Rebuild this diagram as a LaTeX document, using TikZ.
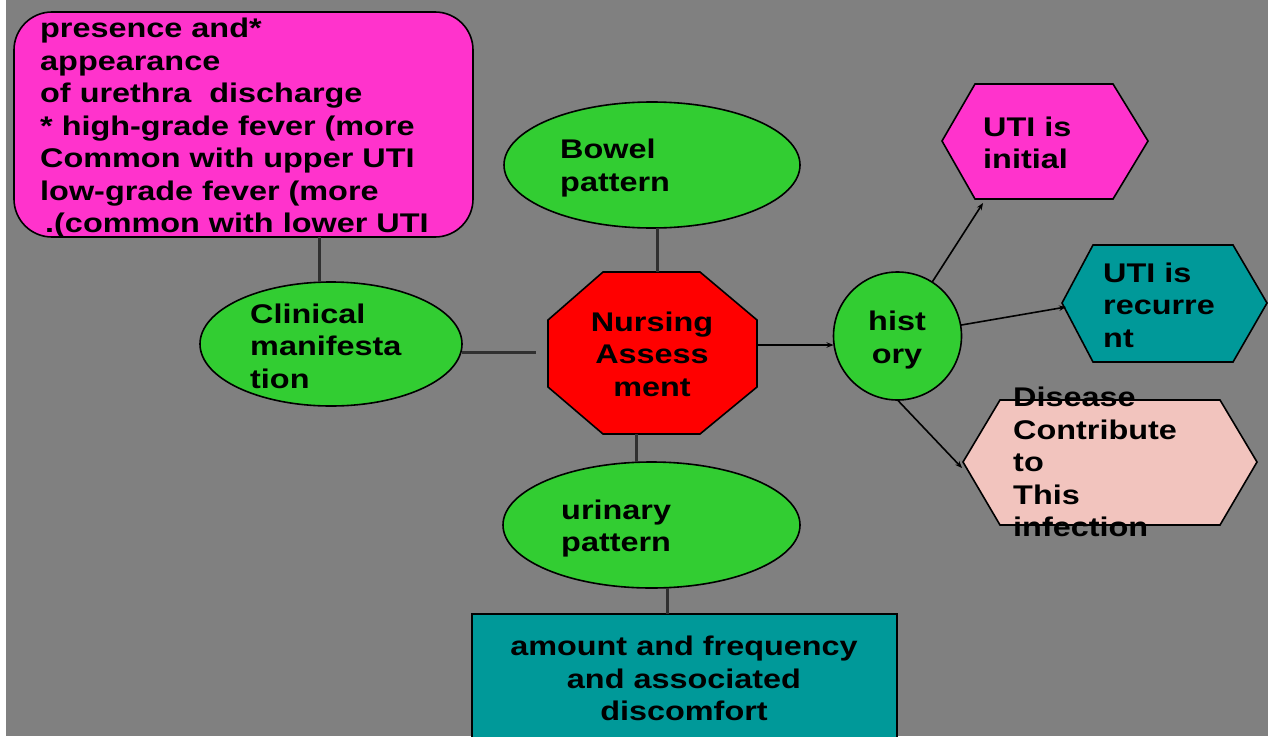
\documentclass[tikz,border=0pt]{standalone}
\usepackage{fontspec}
\setmainfont{Liberation Sans}[FakeStretch=1.2]
\usetikzlibrary{shapes.geometric,arrows.meta}
\definecolor{slidegrey}{HTML}{808080}
\definecolor{hotpink}{HTML}{FF33CC}
\definecolor{leafgreen}{HTML}{32CD32}
\definecolor{tealbox}{HTML}{009999}
\definecolor{palepink}{HTML}{F2C4BE}
\definecolor{linkgrey}{HTML}{303030}
\begin{document}
\begin{tikzpicture}[x=1pt,y=-1pt,
  txt/.style={font=\bfseries\fontsize{27}{32.5}\selectfont, text=black, inner sep=0pt},
  lefttxt/.style={txt, align=left, anchor=west},
  midtxt/.style={txt, align=center},
  shapeline/.style={draw=black, line width=1.6pt, inner sep=0pt, outer sep=0pt},
  oval/.style={shapeline, ellipse, fill=leafgreen},
  link/.style={draw=linkgrey, line width=3pt},
  arrowlink/.style={draw=black, line width=1.6pt, -{Stealth[length=7pt,width=5.5pt]}}
]
% page and slide background
\useasboundingbox (0,0) rectangle (1268,736);
\fill[white] (0,0) rectangle (1268,736);
\fill[slidegrey] (6,0) rectangle (1268,736);

% shapes
\node[shapeline, rectangle, rounded corners=38pt, fill=hotpink,
      minimum width=459pt, minimum height=225pt] (pink) at (243.5,124.5) {};
\node[oval, minimum width=262pt, minimum height=124pt] (clin) at (331,344) {};
\node[oval, minimum width=296pt, minimum height=126pt] (bowel) at (652,165) {};
\node[oval, minimum width=297pt, minimum height=126pt] (urin) at (651.5,525) {};
\node[shapeline, circle, fill=leafgreen, minimum size=128pt] (hist) at (897.5,336) {};
\node[shapeline, rectangle, fill=tealbox, minimum width=425pt, minimum height=140pt,
      anchor=north] (amount) at (684.5,614) {};

% octagon and hexagons
\filldraw[shapeline, fill=red] (603,272) -- (700,272) -- (757,320) -- (757,387)
  -- (700,434) -- (603,434) -- (548,387) -- (548,320) -- cycle;
\node[inner sep=0pt, minimum width=209pt, minimum height=162pt] (nurse) at (652.5,353) {};

\filldraw[shapeline, fill=hotpink] (975,84) -- (1113,84) -- (1148,141) -- (1113,199)
  -- (975,199) -- (942,141) -- cycle;
\coordinate (initin) at (983,203);

\filldraw[shapeline, fill=tealbox] (1093,245) -- (1233,245) -- (1267,303) -- (1233,362)
  -- (1093,362) -- (1062,303) -- cycle;
\coordinate (recurin) at (1066,307);

\filldraw[shapeline, fill=palepink] (1000,400) -- (1220,400) -- (1257,462) -- (1220,525)
  -- (1000,525) -- (963,462) -- cycle;
\coordinate (disin) at (962,468);

% connectors
\draw[link] ([xshift=-12pt]clin.north) -- ([xshift=-12pt]clin.north |- pink.south);
\coordinate (gap) at (536,352);
\draw[link] ([yshift=-8pt]clin.east) -- (gap);
\draw[link] ([xshift=5pt]bowel.south) -- ([xshift=5pt]bowel.south |- nurse.north);
\draw[link] ([xshift=-16pt]nurse.south) -- ([xshift=-16pt]nurse.south |- urin.north);
\draw[link] ([xshift=16pt]urin.south) -- ([xshift=16pt]urin.south |- amount.north);
\draw[arrowlink] ([yshift=8pt]nurse.east) -- ([yshift=8pt]nurse.east -| hist.west);
\draw[arrowlink] (hist) -- (initin);
\draw[arrowlink] (hist) -- (recurin);
\draw[arrowlink] (hist.south) -- (disin);

% labels
\node[lefttxt] (pinktext) at (40,128.5) {presence and*\\appearance\\of urethra\ \ discharge\\* high-grade fever (more\\Common with upper UTI\\low-grade fever (more\\\hspace*{5pt}.(common with lower UTI};
\node[lefttxt] (clintext) at (250,346) {Clinical\\manifesta\\tion};
\node[lefttxt] (boweltext) at (560,168) {Bowel\\pattern};
\node[lefttxt] (urintext) at (561,528.5) {urinary\\pattern};
\node[midtxt] (nursetext) at (652,354) {Nursing\\Assess\\ment};
\node[midtxt] (histtext) at (897,340) {hist\\ory};
\node[lefttxt] (inittext) at (983,143) {UTI is\\initial};
\node[lefttxt] (recurtext) at (1103,305) {UTI is\\recurre\\nt};
\node[lefttxt] (distext) at (1013,462) {Disease\\Contribute\\to\\This\\infection};
\node[midtxt] (amounttext) at (684,678.5) {amount and frequency\\and associated\\discomfort};
\end{tikzpicture}
\end{document}
